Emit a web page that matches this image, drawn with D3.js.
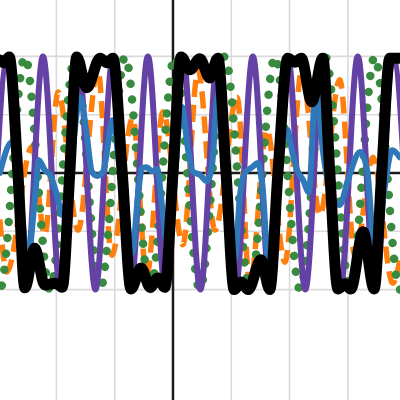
<!DOCTYPE html>
<html>
<head>
<meta charset="utf-8">
<script src="https://cdn.jsdelivr.net/npm/d3@7"></script>
<style>
  body { margin: 0; background: #fff; }
  svg { display: block; }
</style>
</head>
<body>
<div id="chart"></div>
<script>
// grid positions (data units)
const gridTicks = [-2, -1, 0, 1, 2, 3];

// purple solid wave: extrema
const purpleX = [-3.13, -2.83, -2.53, -2.23, -1.93, -1.63, -1.33, -1.03, -0.73, -0.43, -0.13, 0.17, 0.47,
  0.77, 1.07, 1.37, 1.67, 1.97, 2.27, 2.57, 2.87, 3.17, 3.47, 3.77, 4.07];
const purpleY = [-2, 2, -2, 2, -2, 2, -2, 2, -2, 2, -2, 2, -2, 2, -2, 2, -2, 2, -2, 2, -2, 2, -2, 2, -2];

// black thick square-ish wave
const blackX = [-2.97, -2.90, -2.81, -2.66, -2.54, -2.37, -2.20, -2.02, -1.90, -1.77, -1.65, -1.48, -1.25,
  -1.13, -1.03, -0.87, -0.72, -0.55, -0.39, -0.26, -0.14, 0, 0.14, 0.29, 0.46, 0.63, 0.77, 0.91, 1.05,
  1.17, 1.29, 1.51, 1.66, 1.80, 1.97, 2.09, 2.20, 2.38, 2.57, 2.69, 2.83, 2.95, 3.05, 3.26, 3.45, 3.58,
  3.72, 3.89];
const blackY = [1.94, 1.89, 1.99, 0, -1.97, -1.29, -1.92, -1.89, -1.96, 0, 1.99, 1.46, 1.97,
  1.89, 1.97, 0, -1.99, -1.63, -1.96, -1.80, -1.96, 0, 1.99, 1.77, 1.96, 1.63, 1.97, 0, -2.0,
  -1.87, -2.0, -1.49, -2.0, 0, 1.97, 1.90, 1.97, 1.22, 1.97, 0, -1.99, -1.90, -1.99, -1.01, -1.99, 0,
  1.97, 1.97];

// green dotted wave
const greenX = [-3.40, -2.97, -2.54, -2.11, -1.68, -1.25, -0.82, -0.39, 0.03, 0.46, 0.89, 1.32, 1.75,
  2.18, 2.61, 3.04, 3.46, 3.89, 4.32];
const greenY = [2, -2, 2, -2, 2, -2, 2, -2, 2, -2, 2, -2, 2, -2, 2, -2, 2, -2, 2];

// orange dashed wave
const orangeX = [-2.97, -2.85, -2.42, -2.20, -1.97, -1.63, -1.29, -1.05, -0.69, -0.45, -0.17, 0.17, 0.43,
  0.72, 1.10, 1.32, 1.61, 1.92, 2.21, 2.52, 2.86, 3.12, 3.43, 3.77, 3.89];
const orangeY = [-0.8, -1.70, 0.45, -1.06, 1.39, -0.98, 1.77, -1.41, 0.94, -1.75, 1.05, -1.23, 1.77,
  -0.98, 1.30, -1.92, 0.74, -1.53, 1.77, -0.72, 1.60, -1.41, 0.27, -1.89, -1.5];

// blue wave with spikes
const blueX = [-2.97, -2.76, -2.62, -2.49, -2.37, -2.30, -2.20, -2.11, -1.99, -1.90, -1.77, -1.59, -1.49,
  -1.39, -1.30, -1.20, -1.03, -0.93, -0.82, -0.70, -0.60, -0.53, -0.45, -0.36, -0.27, -0.19, -0.10, 0,
  0.15, 0.26, 0.34, 0.46, 0.58, 0.67, 0.77, 0.87, 0.96, 1.06, 1.15, 1.23, 1.36, 1.46, 1.54, 1.63, 1.75,
  1.96, 2.04, 2.13, 2.23, 2.33, 2.45, 2.57, 2.69, 2.86, 3.00, 3.21, 3.33, 3.46, 3.60, 3.76, 3.89];
const blueY = [0, 0.53, -0.38, -1.46, -0.46, 0.22, 0.05, -0.03, -0.38, -0.72, -0.03, 1.30, 0.74,
  0.02, -0.05, 0.02, 0.91, 0.22, -0.46, -1.37, -0.38, 0.09, 0.10, 0.03, 0.07, -0.55, -1.23, -0.46,
  1.13, 0.39, 0.02, -0.03, -0.14, 0.14, 1.32, 0.39, -0.46, -1.49, -0.38, 0, 0.10, 0.17, -0.29, -1.46, -0.46,
  0.74, 0.39, 0.05, -0.12, -0.33, 1.46, 0.39, -0.29, -0.55, -0.12, 0.36, 0.05, -1.32, -0.46, 0.39, 0.27];

const width = 400;
const height = 400;

const x = d3.scaleLinear().domain([-2.967, 3.894]).range([0, width]);
const y = d3.scaleLinear().domain([-3.894, 2.967]).range([height, 0]);

const svg = d3
  .select("#chart")
  .append("svg")
  .attr("width", width)
  .attr("height", height);

// light grid
const grid = svg.append("g").attr("stroke", "#dadada").attr("stroke-width", 1.6);
grid
  .selectAll("line.v")
  .data(gridTicks.filter((t) => t !== 0))
  .join("line")
  .attr("class", "v")
  .attr("x1", (d) => x(d))
  .attr("x2", (d) => x(d))
  .attr("y1", 0)
  .attr("y2", height);
grid
  .selectAll("line.h")
  .data(gridTicks.filter((t) => t !== 0))
  .join("line")
  .attr("class", "h")
  .attr("y1", (d) => y(d))
  .attr("y2", (d) => y(d))
  .attr("x1", 0)
  .attr("x2", width);

// axis lines through the origin
svg
  .append("line")
  .attr("x1", 0)
  .attr("x2", width)
  .attr("y1", y(0))
  .attr("y2", y(0))
  .attr("stroke", "#1a1a1a")
  .attr("stroke-width", 2.5);
svg
  .append("line")
  .attr("x1", x(0))
  .attr("x2", x(0))
  .attr("y1", 0)
  .attr("y2", height)
  .attr("stroke", "#1a1a1a")
  .attr("stroke-width", 2.5);

const line = d3
  .line()
  .x((d) => x(d[0]))
  .y((d) => y(d[1]))
  .curve(d3.curveMonotoneX);

const zip = (xs, ys) => xs.map((v, i) => [v, ys[i]]);

const series = [
  { pts: zip(orangeX, orangeY), color: "#ff7f0e", w: 5.5, dash: "17,8", cap: "butt" },
  { pts: zip(greenX, greenY), color: "#388a3e", w: 8.5, dash: "0.01,16", cap: "round" },
  { pts: zip(purpleX, purpleY), color: "#6441a5", w: 6, dash: null, cap: "round" },
  { pts: zip(blueX, blueY), color: "#2f78b9", w: 6, dash: null, cap: "round" },
  { pts: zip(blackX, blackY), color: "#000000", w: 11, dash: null, cap: "round" },
];

svg
  .append("g")
  .selectAll("path")
  .data(series)
  .join("path")
  .attr("d", (d) => line(d.pts))
  .attr("fill", "none")
  .attr("stroke", (d) => d.color)
  .attr("stroke-width", (d) => d.w)
  .attr("stroke-dasharray", (d) => d.dash)
  .attr("stroke-linecap", (d) => d.cap)
  .attr("stroke-linejoin", "round");
</script>
</body>
</html>
